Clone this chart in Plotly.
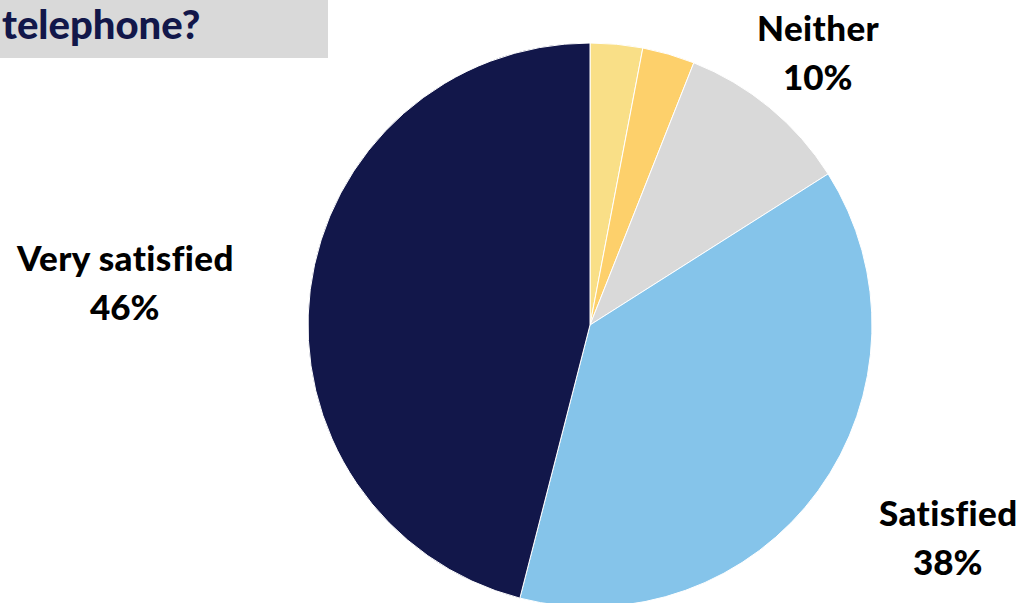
import plotly.graph_objects as go

labels = ["Very dissatisfied", "Dissatisfied", "Neither", "Satisfied", "Very satisfied"]
values = [3, 3, 10, 38, 46]
colors = ["#f9df87", "#fdd06b", "#d9d9d9", "#85c4ea", "#12174a"]

label_names = ["Neither", "Satisfied", "Very satisfied"]
label_pcts = ["10%", "38%", "46%"]
label_x = [818, 948, 125]
label_y1 = [27, 512, 257]
label_y2 = [76, 561, 306]

title_text = "telephone?"

W, H = 1034, 625

def px(x):
    return x / W

def py(y):
    return 1 - y / H

def nolig(s):
    return '<span style="letter-spacing:0.4px">' + s + '</span>'

fig = go.Figure(go.Pie(
    labels=labels, values=values, sort=False, direction="clockwise", rotation=0,
    marker=dict(colors=colors, line=dict(color="white", width=1)),
    textinfo="none", hoverinfo="label+percent", showlegend=False,
    domain=dict(x=[px(308), px(872)], y=[py(607), py(43)]),
))

lab_font = dict(family="Lato", size=35, color="#000000", weight=900)
ann = []
for n, p, x, y1, y2 in zip(label_names, label_pcts, label_x, label_y1, label_y2):
    ann.append(dict(text=nolig(n), x=px(x), y=py(y1), xref="paper", yref="paper", showarrow=False,
                    xanchor="center", yanchor="middle", font=lab_font))
    ann.append(dict(text=p, x=px(x), y=py(y2), xref="paper", yref="paper", showarrow=False,
                    xanchor="center", yanchor="middle", font=lab_font))
ann.append(dict(text=title_text, x=px(1), y=py(24), xref="paper", yref="paper", showarrow=False,
                xanchor="left", yanchor="middle", borderpad=0,
                font=dict(family="Lato", size=40, color="#12174a", weight=900)))

fig.update_layout(
    width=W, height=H, margin=dict(l=0, r=0, t=0, b=0),
    paper_bgcolor="white", plot_bgcolor="white",
    annotations=ann,
    shapes=[dict(type="rect", xref="paper", yref="paper", x0=0, x1=px(328), y0=py(58), y1=1,
                 fillcolor="#d9d9d9", line=dict(width=0), layer="below")],
)

fig.write_html("out.html", config={"displayModeBar": False},
               post_script="document.body.style.margin='0';document.body.style.overflow='hidden';")
